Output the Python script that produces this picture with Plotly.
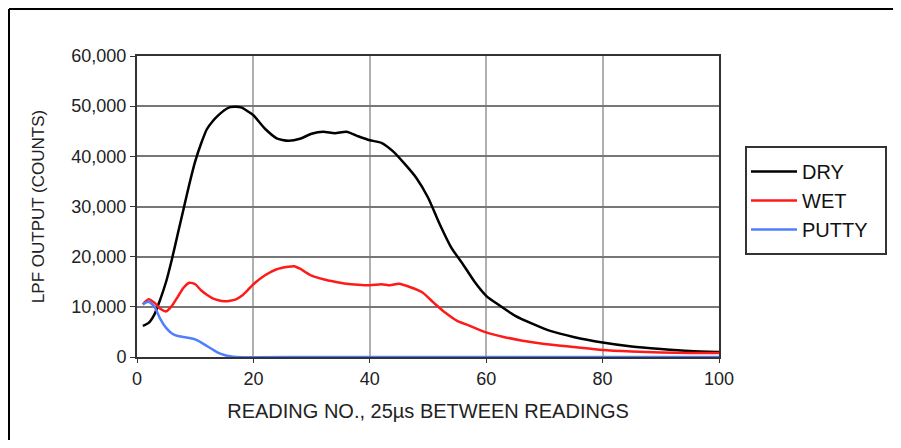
import plotly.graph_objects as go

dry_x = [1, 2, 3, 4, 5, 6, 7, 8, 9, 10, 11, 12, 13, 14, 15, 16, 17, 18, 19, 20, 22, 24, 26, 28, 30, 32, 34, 36, 38, 40,
         42, 44, 46, 48, 50, 52, 54, 56, 58, 60, 62, 65, 68, 71, 75, 80, 85, 90, 95, 100]
dry_y = [6200, 6800, 8500, 11500, 15000, 19500, 24500, 29500, 34500, 39000, 42500, 45400, 47000, 48200, 49200, 49800,
         49900, 49700, 49000, 48200, 45500, 43600, 43100, 43500, 44500, 44900, 44600, 44900, 44000, 43200,
         42700, 41000, 38500, 35700, 31800, 26500, 21800, 18500, 15000, 12200, 10500, 8200, 6600, 5200, 4000,
         2900, 2100, 1600, 1200, 1000]

wet_x = [1, 2, 3, 4, 5, 6, 7, 8, 9, 10, 11, 12, 13, 14, 15, 16, 17, 18, 19, 20, 22, 24, 26, 27, 28, 30, 32, 34, 36, 38,
         40, 42, 43.5, 45, 47, 49, 51, 53, 55, 57, 60, 63, 66, 70, 75, 80, 85, 90, 95, 100]
wet_y = [10500, 11500, 10800, 9600, 9100, 10200, 12000, 13800, 14800, 14500, 13300, 12400, 11700, 11300, 11100, 11200,
         11500, 12200, 13300, 14500, 16300, 17500, 18000, 18100, 17600, 16200, 15500, 15000, 14600, 14400,
         14300, 14500, 14300, 14600, 13900, 12900, 10800, 8800, 7200, 6300, 4900, 4000, 3300, 2600, 2000,
         1400, 1100, 900, 800, 800]

putty_x = [1, 2, 3, 4, 5, 6, 7, 8, 9, 10, 11, 12, 13, 14, 15, 16, 17, 30, 50, 70, 100]
putty_y = [10500, 11000, 10000, 7600, 5800, 4700, 4200, 4000, 3800, 3500, 2900, 2200, 1500, 800, 400, 150, 0, 0, 0, 0, 0]

x_ticks = [0, 20, 40, 60, 80, 100]
y_ticks = [0, 10000, 20000, 30000, 40000, 50000, 60000]

FONT = "Arial, Liberation Sans, sans-serif"

# page has 8px body margin: figure origin at (8, 8)
W, H = 885, 432
L, T = 129, 48
PW, PH = 582, 301
R = W - L - PW
B = H - T - PH

def px_x(p):  # page px -> paper x
    return (p - 8 - L) / PW

def px_y(p):  # page px -> paper y
    return (T + PH - (p - 8)) / PH

fig = go.Figure()
fig.add_trace(go.Scatter(x=dry_x, y=dry_y, mode="lines", name="DRY", legendgroup="a",
                         line=dict(color="#000000", width=2.5, shape="spline", smoothing=0.6)))
fig.add_trace(go.Scatter(x=wet_x, y=wet_y, mode="lines", name="WET", legendgroup="b",
                         line=dict(color="#ff1a1a", width=2.5, shape="spline", smoothing=0.6)))
fig.add_trace(go.Scatter(x=putty_x, y=putty_y, mode="lines", name="PUTTY", legendgroup="c",
                         line=dict(color="#4f7fff", width=2.5, shape="spline", smoothing=0.6)))

fig.update_layout(
    width=W, height=H,
    margin=dict(l=L, r=R, t=T, b=B, pad=0),
    paper_bgcolor="white", plot_bgcolor="white",
    font=dict(family=FONT, size=18, color="#222222"),
    showlegend=True,
    legend=dict(x=px_x(746), y=px_y(152), xanchor="left", yanchor="top",
                borderwidth=0, bgcolor="rgba(0,0,0,0)",
                traceorder="grouped", tracegroupgap=0, itemwidth=46,
                font=dict(family=FONT, size=20, color="#111111")),
    shapes=[
        dict(type="line", xref="paper", yref="paper",
             x0=px_x(9), x1=px_x(960), y0=px_y(9), y1=px_y(9),
             line=dict(color="#000000", width=2), layer="below"),
        dict(type="line", xref="paper", yref="paper",
             x0=px_x(9), x1=px_x(9), y0=px_y(9), y1=px_y(520),
             line=dict(color="#000000", width=2), layer="below"),
        dict(type="rect", xref="paper", yref="paper",
             x0=px_x(746), x1=px_x(886), y0=px_y(254), y1=px_y(147),
             line=dict(color="#333333", width=2), fillcolor="white", layer="below"),
    ],
    xaxis2=dict(overlaying="x", range=[0, 100], tickvals=[20, 40], showgrid=True,
                gridcolor="#666666", gridwidth=1.5, showticklabels=False, ticks="",
                showline=False, zeroline=False, side="bottom"),
)
fig.layout.xaxis.update(range=[0, 100], tickvals=x_ticks,
                        showgrid=True, gridcolor="#b0b0b0", gridwidth=2,
                        showline=True, linecolor="#333333", linewidth=2, mirror=True,
                        ticks="outside", ticklen=4, tickcolor="#333333",
                        tickfont=dict(size=18), zeroline=False,
                        title=dict(text="READING NO., 25µs BETWEEN READINGS", font=dict(size=20), standoff=16))
fig.update_yaxes(range=[0, 60000], tickvals=y_ticks,
                 tickformat=",d",
                 showgrid=True, gridcolor="#777777", gridwidth=1.5,
                 showline=True, linecolor="#333333", linewidth=2, mirror=True,
                 ticks="outside", ticklen=5, tickcolor="#333333",
                 tickfont=dict(size=18), zeroline=False,
                 title=dict(text="LPF OUTPUT (COUNTS)", font=dict(size=17), standoff=22))

fig.write_html("out.html")
